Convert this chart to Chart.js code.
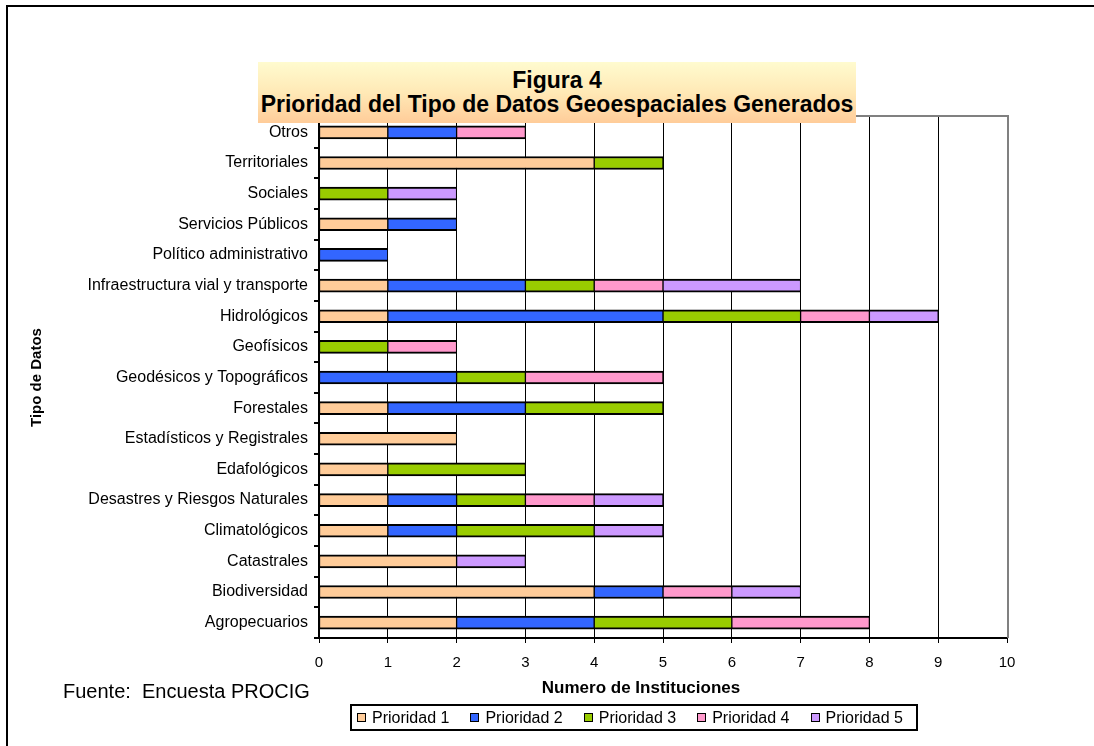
<!DOCTYPE html>
<html lang="es">
<head>
<meta charset="utf-8">
<title>Figura 4 - Prioridad del Tipo de Datos Geoespaciales Generados</title>
<script src="https://cdn.jsdelivr.net/npm/chart.js@4"></script>
<style>
  html, body { margin: 0; padding: 0; background: #fff; }
  #wrap { position: relative; width: 1094px; height: 746px; overflow: hidden; font-family: 'Liberation Sans', Arial, sans-serif; color: #000; }
  #chart { position: absolute; left: 0; top: 0; }
  #frame { position: absolute; left: 6px; top: 5px; width: 1200px; height: 900px; border-top: 2px solid #000; border-left: 2px solid #000; pointer-events: none; }
  #titlebox { position: absolute; left: 258px; top: 62px; width: 598px; height: 61px;
    background: linear-gradient(to bottom, #FFFBCF 0%, #FFE9B6 50%, #FFCC99 100%);
    text-align: center; font-weight: bold; font-size: 23px; line-height: 24px; padding-top: 6px; box-sizing: border-box; white-space: nowrap; }
  #fuente { position: absolute; left: 63px; top: 680px; font-size: 20px; white-space: pre; }
  #xtitle { position: absolute; left: 541px; width: 200px; top: 678px; text-align: center; font-weight: bold; font-size: 17px; white-space: nowrap; }
  #legend { position: absolute; left: 350px; top: 704px; width: 568px; height: 27px; box-sizing: border-box;
    border: 2px solid #000; display: flex; align-items: center; padding-left: 5px; font-size: 16px; white-space: nowrap; }
  .item { display: flex; align-items: center; margin-right: 21px; }
  .sw { width: 9px; height: 9px; box-sizing: border-box; border: 1.5px solid #000; margin-right: 6px; }
</style>
</head>
<body>
<div id="wrap">
  <canvas id="chart" width="1094" height="746"></canvas>
  <div id="frame"></div>
  <div id="titlebox">Figura 4<br>Prioridad del Tipo de Datos Geoespaciales Generados</div>
  <div id="xtitle">Numero de Instituciones</div>
  <div id="fuente">Fuente:  Encuesta PROCIG</div>
  <div id="legend"></div>
</div>
<script>
// Categories, listed from the top of the chart to the bottom
const categorias = [
  'Otros',
  'Territoriales',
  'Sociales',
  'Servicios Públicos',
  'Político administrativo',
  'Infraestructura vial y transporte',
  'Hidrológicos',
  'Geofísicos',
  'Geodésicos y Topográficos',
  'Forestales',
  'Estadísticos y Registrales',
  'Edafológicos',
  'Desastres y Riesgos Naturales',
  'Climatológicos',
  'Catastrales',
  'Biodiversidad',
  'Agropecuarios'
];

// Number of institutions per priority level
const prioridad1 = [1, 4, 0, 1, 0, 1, 1, 0, 0, 1, 2, 1, 1, 1, 2, 4, 2];
const prioridad2 = [1, 0, 0, 1, 1, 2, 4, 0, 2, 2, 0, 0, 1, 1, 0, 1, 2];
const prioridad3 = [0, 1, 1, 0, 0, 1, 2, 1, 1, 2, 0, 2, 1, 2, 0, 0, 2];
const prioridad4 = [1, 0, 0, 0, 0, 1, 1, 1, 2, 0, 0, 0, 1, 0, 0, 1, 2];
const prioridad5 = [0, 0, 1, 0, 0, 2, 1, 0, 0, 0, 0, 0, 1, 1, 1, 1, 0];

const series = ['Prioridad 1', 'Prioridad 2', 'Prioridad 3', 'Prioridad 4', 'Prioridad 5'];
const colores = ['#FFCC99', '#3366FF', '#99CC00', '#FF99CC', '#CC99FF'];
const valores = [prioridad1, prioridad2, prioridad3, prioridad4, prioridad5];

const FONT = "'Liberation Sans', Arial, sans-serif";
Chart.defaults.font.family = FONT;
Chart.defaults.color = '#000';

// Gray frame on the top and right sides of the plot area
const plotFrame = {
  id: 'plotFrame',
  afterDatasetsDraw(chart) {
    const { ctx, chartArea: a } = chart;
    ctx.save();
    ctx.strokeStyle = '#808080';
    ctx.lineWidth = 2;
    ctx.beginPath();
    ctx.moveTo(a.left, a.top - 1);
    ctx.lineTo(a.right + 1, a.top - 1);
    ctx.lineTo(a.right + 1, a.bottom);
    ctx.stroke();
    ctx.restore();
  }
};

new Chart(document.getElementById('chart'), {
  type: 'bar',
  data: {
    labels: categorias,
    datasets: series.map((s, i) => ({
      label: s,
      data: valores[i],
      backgroundColor: colores[i],
      borderColor: '#000',
      borderWidth: { top: 2, bottom: 2, left: 1, right: 1 },
      borderSkipped: false,
      barThickness: 13
    }))
  },
  options: {
    indexAxis: 'y',
    responsive: false,
    animation: false,
    devicePixelRatio: 1,
    layout: { padding: { left: 0, top: 117, right: 87, bottom: 0 } },
    plugins: {
      legend: { display: false },
      tooltip: { enabled: false }
    },
    scales: {
      x: {
        stacked: true,
        min: 0,
        max: 10,
        ticks: { stepSize: 1, padding: 11, font: { size: 15 }, color: '#000' },
        grid: { color: '#000', lineWidth: 1, tickLength: 5, tickColor: '#000', drawTicks: true },
        border: { color: '#000', width: 2 },
        afterFit(scale) { scale.height = 108; }
      },
      y: {
        stacked: true,
        ticks: { padding: 6, font: { size: 16 }, color: '#000', autoSkip: false },
        grid: { drawOnChartArea: false, drawTicks: true, tickLength: 5, tickColor: '#000', lineWidth: 2, offset: true },
        border: { color: '#000', width: 2 },
        title: { display: true, text: 'Tipo de Datos', font: { size: 15, weight: 'bold' }, padding: { top: 28, bottom: 0 }, color: '#000' },
        afterFit(scale) { scale.width = 319; }
      }
    }
  },
  plugins: [plotFrame]
});

// Legend row under the axis
const leg = document.getElementById('legend');
series.forEach((s, i) => {
  const it = document.createElement('div');
  it.className = 'item';
  const sw = document.createElement('span');
  sw.className = 'sw';
  sw.style.background = colores[i];
  const tx = document.createElement('span');
  tx.textContent = s;
  it.appendChild(sw);
  it.appendChild(tx);
  leg.appendChild(it);
});
</script>
</body>
</html>
